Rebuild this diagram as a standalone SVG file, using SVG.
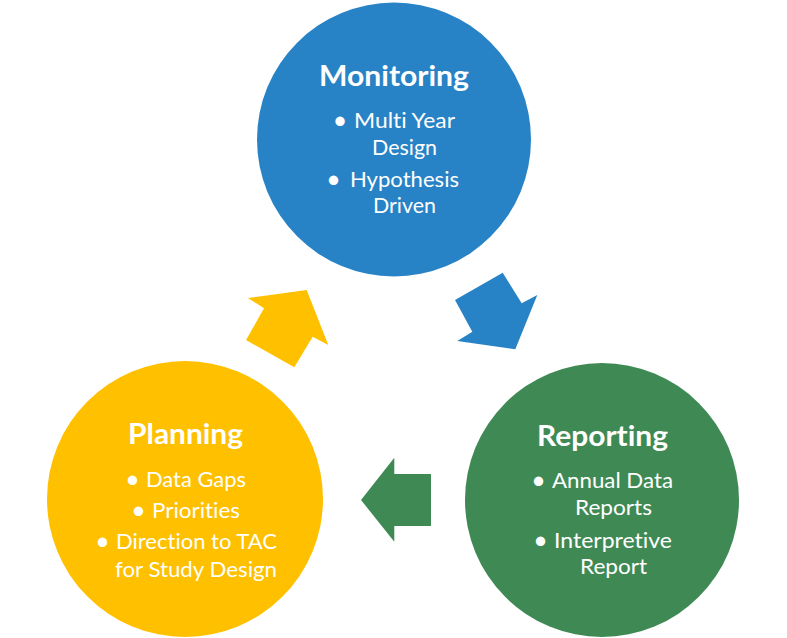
<svg xmlns="http://www.w3.org/2000/svg" width="787" height="638" viewBox="0 0 787 638">
<style>
.t{font-family:Lato,"Open Sans","Liberation Sans",sans-serif;fill:#fff;font-variant-ligatures:none;font-feature-settings:"liga" 0;}
.h{font-size:29px;font-weight:bold;text-anchor:middle;}
.b{font-size:22px;}
.d{font-size:25px;text-anchor:middle;}
</style>
<rect width="787" height="638" fill="#fff"/>
<g id="connectors">
<polygon points="455,300 502.7,272.7 521.7,303.3 537.3,295 515.3,349.3 457.3,341 472.3,331.7" fill="#2783C6"/>
<polygon points="394.3,457.7 394.3,474 431,474 431,526 394.3,526 394.3,541.7 361,500" fill="#3F8A54"/>
<polygon points="248,298 306.7,290 328.3,345 312.7,336.7 294.3,367.3 246,340 264,308.3" fill="#FFC000"/>
</g>
<g id="monitoring">
<circle cx="394" cy="139.5" r="137" fill="#2783C6"/>
<text class="t h" x="394" y="86" textLength="150" lengthAdjust="spacingAndGlyphs">Monitoring</text>
<text class="t d" x="340" y="129">•</text>
<text class="t b" x="354" y="128" textLength="101" lengthAdjust="spacingAndGlyphs">Multi Year</text>
<text class="t b" x="372" y="155" textLength="65" lengthAdjust="spacingAndGlyphs">Design</text>
<text class="t d" x="333.5" y="188">•</text>
<text class="t b" x="350" y="187" textLength="109" lengthAdjust="spacingAndGlyphs">Hypothesis</text>
<text class="t b" x="373" y="213" textLength="63" lengthAdjust="spacingAndGlyphs">Driven</text>
</g>
<g id="reporting">
<circle cx="602" cy="500" r="137" fill="#3F8A54"/>
<text class="t h" x="602.5" y="446" textLength="131" lengthAdjust="spacingAndGlyphs">Reporting</text>
<text class="t d" x="538.5" y="489">•</text>
<text class="t b" x="552" y="488" textLength="121" lengthAdjust="spacingAndGlyphs">Annual Data</text>
<text class="t b" x="575" y="515" textLength="77" lengthAdjust="spacingAndGlyphs">Reports</text>
<text class="t d" x="540.5" y="549">•</text>
<text class="t b" x="554" y="548" textLength="118" lengthAdjust="spacingAndGlyphs">Interpretive</text>
<text class="t b" x="580" y="574" textLength="67" lengthAdjust="spacingAndGlyphs">Report</text>
</g>
<g id="planning">
<circle cx="185" cy="499" r="138" fill="#FFC000"/>
<text class="t h" x="185.5" y="444" textLength="115" lengthAdjust="spacingAndGlyphs">Planning</text>
<text class="t d" x="132.5" y="488">•</text>
<text class="t b" x="146" y="487" textLength="100" lengthAdjust="spacingAndGlyphs">Data Gaps</text>
<text class="t d" x="138.5" y="519">•</text>
<text class="t b" x="152" y="518" textLength="88" lengthAdjust="spacingAndGlyphs">Priorities</text>
<text class="t d" x="102.5" y="550">•</text>
<text class="t b" x="116" y="549" textLength="161" lengthAdjust="spacingAndGlyphs">Direction to TAC</text>
<text class="t b" x="115" y="577" textLength="162" lengthAdjust="spacingAndGlyphs">for Study Design</text>
</g>
</svg>
